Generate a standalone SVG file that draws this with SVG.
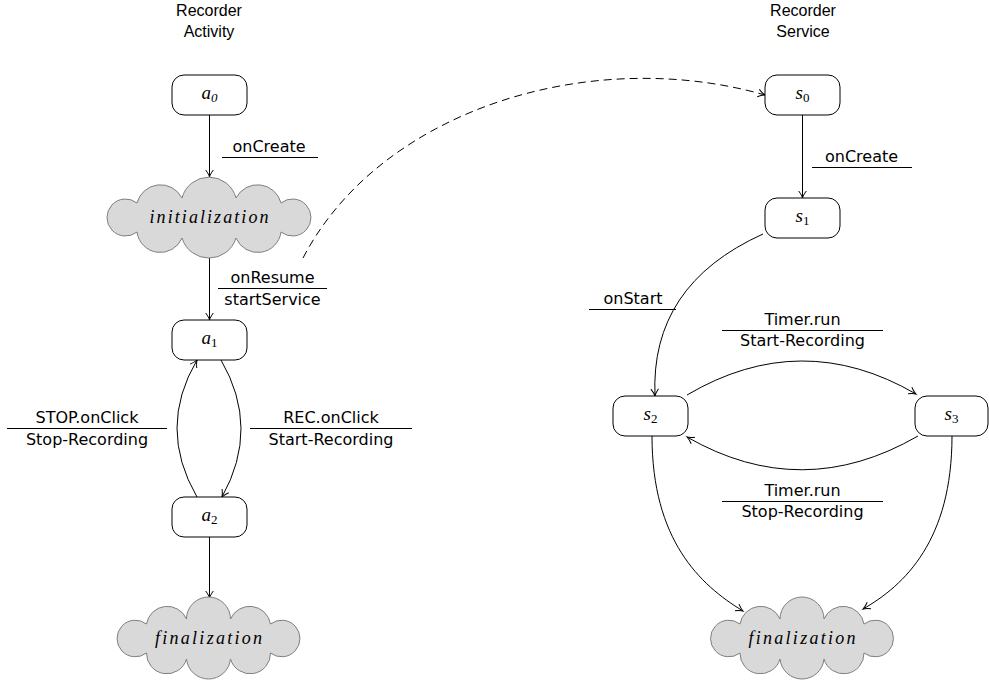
<svg xmlns="http://www.w3.org/2000/svg" width="989" height="683" viewBox="0 0 989 683">
<style>
.title{font-family:"Liberation Sans",Arial,sans-serif;font-size:16px;fill:#000;text-anchor:middle}
.lbl{font-family:"DejaVu Sans","Liberation Sans",sans-serif;font-size:16px;fill:#000;text-anchor:middle}
.math{font-family:"Liberation Serif","Times New Roman",serif;font-style:italic;font-size:19px;fill:#000;text-anchor:middle}
.sub{font-size:13px;font-style:normal}
.subi{font-size:13px;font-style:italic}
.cloudtxt{font-family:"Liberation Serif","Times New Roman",serif;font-style:italic;font-size:18px;fill:#000;text-anchor:middle}
.state{fill:#fff;stroke:#000;stroke-width:1}
.cloud{fill:#d9d9d9;stroke:#7f7f7f;stroke-width:1}
.rule{stroke:#000;stroke-width:1}
.edge{fill:none;stroke:#000;stroke-width:1;marker-end:url(#arr)}
.dashed{stroke-dasharray:8 5}
</style>
<defs>
<marker id="arr" viewBox="-9 -5 11 10" markerWidth="11" markerHeight="10" refX="0" refY="0" orient="auto" markerUnits="userSpaceOnUse">
<path d="M -7 -3.8 C -4 -1.6 -1.5 -0.4 0 0 C -1.5 0.4 -4 1.6 -7 3.8" fill="none" stroke="#000" stroke-width="1"/>
</marker>
<path id="cloudInit" d="M -72 15 A 18.5 18.5 0 1 1 -72 -14 A 24.2 24.2 0 0 1 -27 -19 A 27.9 27.9 0 0 1 27 -19 A 24.2 24.2 0 0 1 72 -14 A 18.5 18.5 0 1 1 72 15 A 23.5 23.5 0 0 1 27 21 A 28.2 28.2 0 0 1 -27 21 A 23.5 23.5 0 0 1 -72 15 Z"/>
<path id="cloudFin" d="M -62 15 A 18.3 18.3 0 1 1 -62 -14 A 21 21 0 0 1 -22 -19 A 22 22 0 0 1 22 -19 A 21 21 0 0 1 62 -14 A 18.3 18.3 0 1 1 62 15 A 20.4 20.4 0 0 1 22 21 A 22.1 22.1 0 0 1 -22 21 A 20.4 20.4 0 0 1 -62 15 Z"/>
</defs>

<g id="titles">
<text class="title" x="209" y="16">Recorder</text>
<text class="title" x="209" y="37">Activity</text>
<text class="title" x="803" y="16">Recorder</text>
<text class="title" x="803" y="37">Service</text>
</g>

<g id="connectors">
<path class="edge" d="M 209.5 115 L 209.5 177"/>
<path class="edge" d="M 209.5 258 L 209.5 320"/>
<path class="edge" d="M 221 360 Q 260.5 428 222 497"/>
<path class="edge" d="M 197 497 Q 157 428 197 360"/>
<path class="edge" d="M 209.5 537 L 209.5 598"/>
<path class="edge dashed" d="M 303 258 C 380 110 590 45 765 95"/>
<path class="edge" d="M 802.5 115 L 802.5 198"/>
<path class="edge" d="M 763 234 Q 650 285 655 396"/>
<path class="edge" d="M 687 395 Q 801.5 327.5 916 394"/>
<path class="edge" d="M 918 436 Q 802 503 687 437"/>
<path class="edge" d="M 652 436 C 652 540 700 585 743 611"/>
<path class="edge" d="M 952 436 C 952 540 905 585 863 609"/>
</g>

<g id="edge-labels">
<text class="lbl" x="269" y="152">onCreate</text>
<line class="rule" x1="222" y1="157.5" x2="318" y2="157.5"/>
<text class="lbl" x="272.5" y="283">onResume</text>
<line class="rule" x1="218" y1="288.5" x2="327" y2="288.5"/>
<text class="lbl" x="272.5" y="305">startService</text>
<text class="lbl" x="87" y="423">STOP.onClick</text>
<line class="rule" x1="7" y1="428.5" x2="167" y2="428.5"/>
<text class="lbl" x="87" y="445">Stop-Recording</text>
<text class="lbl" x="331" y="423">REC.onClick</text>
<line class="rule" x1="250" y1="428.5" x2="412" y2="428.5"/>
<text class="lbl" x="331" y="445">Start-Recording</text>
<text class="lbl" x="861.5" y="162">onCreate</text>
<line class="rule" x1="812" y1="167.5" x2="912" y2="167.5"/>
<text class="lbl" x="633" y="304">onStart</text>
<line class="rule" x1="589" y1="309.5" x2="676" y2="309.5"/>
<text class="lbl" x="802.5" y="325">Timer.run</text>
<line class="rule" x1="722" y1="330.5" x2="883" y2="330.5"/>
<text class="lbl" x="802.5" y="346">Start-Recording</text>
<text class="lbl" x="802.5" y="496">Timer.run</text>
<line class="rule" x1="722" y1="501.5" x2="883" y2="501.5"/>
<text class="lbl" x="802.5" y="517">Stop-Recording</text>
</g>

<g id="a0">
<rect class="state" x="172" y="75" width="75" height="40" rx="12"/>
<text class="math" x="209.5" y="99">a<tspan class="subi" dy="3">0</tspan></text>
</g>
<g id="initialization">
<use href="#cloudInit" class="cloud" transform="translate(209 217)"/>
<text class="cloudtxt" x="209" y="223" textLength="119" lengthAdjust="spacing">initialization</text>
</g>
<g id="a1">
<rect class="state" x="172" y="320" width="75" height="40" rx="12"/>
<text class="math" x="209.5" y="344">a<tspan class="sub" dy="3">1</tspan></text>
</g>
<g id="a2">
<rect class="state" x="172" y="497" width="75" height="40" rx="12"/>
<text class="math" x="209.5" y="521">a<tspan class="sub" dy="3">2</tspan></text>
</g>
<g id="finalization-a">
<use href="#cloudFin" class="cloud" transform="translate(208.5 638)"/>
<text class="cloudtxt" x="208.5" y="644" textLength="107" lengthAdjust="spacing">finalization</text>
</g>
<g id="s0">
<rect class="state" x="765" y="75" width="75" height="40" rx="12"/>
<text class="math" x="802.5" y="99">s<tspan class="sub" dy="3">0</tspan></text>
</g>
<g id="s1">
<rect class="state" x="765" y="198" width="75" height="40" rx="12"/>
<text class="math" x="802.5" y="222">s<tspan class="sub" dy="3">1</tspan></text>
</g>
<g id="s2">
<rect class="state" x="613" y="396" width="75" height="40" rx="12"/>
<text class="math" x="650.5" y="420">s<tspan class="sub" dy="3">2</tspan></text>
</g>
<g id="s3">
<rect class="state" x="915" y="396" width="73" height="40" rx="12"/>
<text class="math" x="951.5" y="420">s<tspan class="sub" dy="3">3</tspan></text>
</g>
<g id="finalization-s">
<use href="#cloudFin" class="cloud" transform="translate(802 638)"/>
<text class="cloudtxt" x="802" y="644" textLength="107" lengthAdjust="spacing">finalization</text>
</g>
</svg>
